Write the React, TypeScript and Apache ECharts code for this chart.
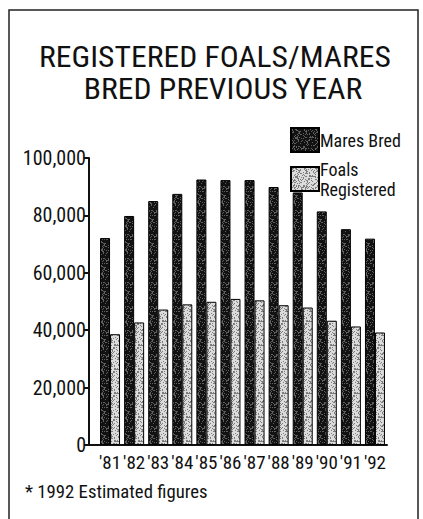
import React, { useEffect, useRef } from "react";
import * as echarts from "echarts";

const years = ["'81", "'82", "'83", "'84", "'85", "'86", "'87", "'88", "'89", "'90", "'91", "'92"];
const maresBred = [72100, 79800, 85000, 87500, 92500, 92300, 92300, 89900, 88000, 81400, 75200, 71900];
const foalsRegistered = [38600, 42700, 47200, 49000, 49900, 50900, 50400, 48700, 47900, 43300, 41300, 39200];
const titleLines = ["REGISTERED FOALS/MARES", "BRED PREVIOUS YEAR"];
const footnote = "* 1992 Estimated figures";

const FONT = "'Liberation Sans Narrow', 'Roboto Condensed', Roboto, sans-serif";

// deterministic stipple texture (purely decorative)
function stipple(base: number[], dot: number[], share: number) {
  const c = document.createElement("canvas");
  const n = 24;
  c.width = n;
  c.height = n;
  const ctx = c.getContext("2d")!;
  const img = ctx.createImageData(n, n);
  for (let y = 0; y < n; y++) {
    for (let x = 0; x < n; x++) {
      let h = (x * 374761393 + y * 668265263) | 0;
      h = Math.imul(h ^ (h >>> 13), 1274126177);
      h = (h ^ (h >>> 16)) >>> 0;
      const on = (h % 1000) / 1000 < share;
      const col = on ? dot : base;
      const k = (y * n + x) * 4;
      img.data[k] = col[0];
      img.data[k + 1] = col[1];
      img.data[k + 2] = col[2];
      img.data[k + 3] = 255;
    }
  }
  ctx.putImageData(img, 0, 0);
  return { image: c, repeat: "repeat" };
}

export default function App() {
  const ref = useRef<HTMLDivElement>(null);
  useEffect(() => {
    document.body.style.margin = "0";
    const chart = echarts.init(ref.current!, null, { renderer: "svg" });
    const darkFill = stipple([18, 18, 18], [95, 95, 95], 0.25);
    const lightFill = stipple([220, 220, 220], [125, 125, 125], 0.32);
    chart.setOption({
      animation: false,
      backgroundColor: "#ffffff",
      textStyle: { fontFamily: FONT, color: "#111" },
      grid: { left: 98, right: 36, top: 158, bottom: 74 },
      legend: {
        orient: "vertical",
        left: 285,
        top: 122,
        itemWidth: 28,
        itemHeight: 24,
        itemGap: 6,
        icon: "rect",
        textStyle: { fontFamily: FONT, fontSize: 18, color: "#111", lineHeight: 20, padding: [0, 0, 0, -4] },
        formatter: (n: string) => (n === "Foals Registered" ? "Foals\nRegistered" : n),
        data: ["Mares Bred", "Foals Registered"],
      },
      xAxis: {
        type: "category",
        data: years,
        boundaryGap: true,
        axisLine: { lineStyle: { color: "#111", width: 2 } },
        axisTick: { alignWithLabel: true, length: 7, lineStyle: { color: "#111", width: 2 } },
        axisLabel: { fontFamily: FONT, fontSize: 19, color: "#111", margin: 8, interval: 0 },
      },
      yAxis: {
        type: "value",
        min: 0,
        max: 100000,
        interval: 20000,
        offset: 9,
        axisLine: { show: true, lineStyle: { color: "#111", width: 2 } },
        axisTick: { show: true, length: 5, lineStyle: { color: "#111", width: 2 } },
        splitLine: { show: false },
        axisLabel: {
          fontFamily: FONT,
          fontSize: 20,
          color: "#111",
          margin: 3,
          formatter: (v: number) => v.toLocaleString("en-US"),
        },
      },
      series: [
        {
          name: "Mares Bred",
          type: "bar",
          data: maresBred,
          barWidth: 10,
          barGap: "0%",
          itemStyle: { color: darkFill, borderColor: "#000", borderWidth: 1 },
        },
        {
          name: "Foals Registered",
          type: "bar",
          data: foalsRegistered,
          barWidth: 10,
          barGap: "0%",
          itemStyle: { color: lightFill, borderColor: "#000", borderWidth: 1 },
        },
      ],
      graphic: [
        {
          type: "polyline",
          shape: { points: [[9, 519], [9, 10], [418, 10], [418, 519]] },
          style: { stroke: "#222", lineWidth: 1.5, fill: null },
        },
        {
          type: "line",
          shape: { x1: 89, y1: 445, x2: 99, y2: 445 },
          style: { stroke: "#111", lineWidth: 2 },
        },
        {
          type: "text",
          x: 215,
          y: 57,
          scaleX: 1.09,
          style: { text: titleLines[0], font: `29px ${FONT}`, fill: "#111", textAlign: "center", textVerticalAlign: "middle" },
        },
        {
          type: "text",
          x: 223,
          y: 89,
          scaleX: 1.09,
          style: { text: titleLines[1], font: `29px ${FONT}`, fill: "#111", textAlign: "center", textVerticalAlign: "middle" },
        },
        {
          type: "text",
          x: 25,
          y: 492,
          scaleX: 1.04,
          style: { text: footnote, font: `18px ${FONT}`, fill: "#111", textAlign: "left", textVerticalAlign: "middle" },
        },
      ],
    });
    return () => chart.dispose();
  }, []);
  return <div ref={ref} style={{ width: 423, height: 519 }} />;
}
